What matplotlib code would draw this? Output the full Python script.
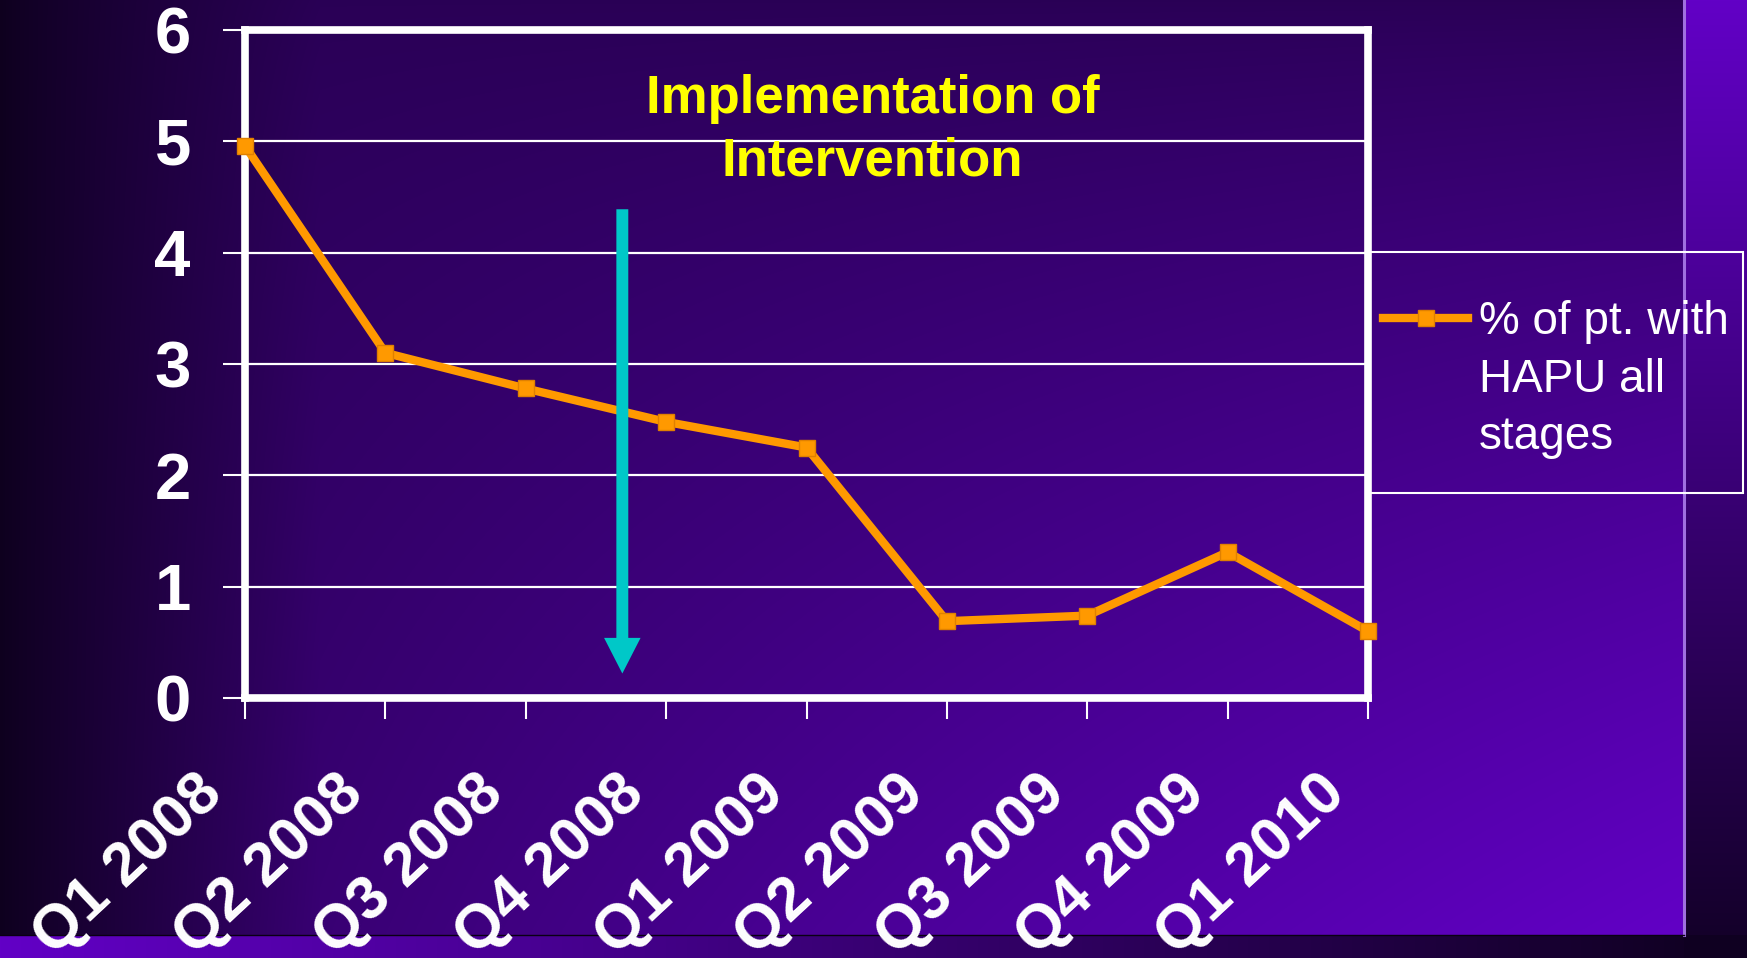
import numpy as np
import matplotlib.pyplot as plt
from matplotlib.lines import Line2D
from matplotlib.patches import Rectangle, FancyArrow
from matplotlib.transforms import ScaledTranslation

# data
quarters = ["Q1 2008", "Q2 2008", "Q3 2008", "Q4 2008", "Q1 2009",
            "Q2 2009", "Q3 2009", "Q4 2009", "Q1 2010"]
hapu_pct = [4.96, 3.10, 2.78, 2.48, 2.25, 0.69, 0.74, 1.31, 0.60]
y_ticks = [0, 1, 2, 3, 4, 5, 6]
series_label = "% of pt. with\nHAPU all\nstages"
note_text = "Implementation of\nIntervention"

plt.rcParams['font.family'] = ['Liberation Sans', 'DejaVu Sans']

W, H = 1747, 958
fig = plt.figure(figsize=(W / 100, H / 100), dpi=100)

# slide background gradient
yy, xx = np.mgrid[0:H, 0:W].astype(float)
edge_x, edge_y = 1684, 935
t = np.clip(xx / 320, 0, 1) ** 0.8 * (0.33 + 0.67 * ((xx / edge_x) * (yy / edge_y)) ** 0.8)
t = np.where(xx >= edge_x, 1 - 0.95 * yy / H, t)
t = np.where((yy >= edge_y) & (xx < edge_x), 1 - xx / W, t)
t = np.where((yy >= edge_y) & (xx >= edge_x), 0.02, t)
t = np.clip(t, 0, 1)
dark = np.array([14, 0, 30]) / 255
bright = np.array([98, 0, 198]) / 255
rgb = dark + t[..., None] * (bright - dark)

bg = fig.add_axes([0, 0, 1, 1], zorder=-10)
bg.imshow(rgb, aspect='auto', extent=(0, W, H, 0), interpolation='bilinear')
bg.plot([edge_x, edge_x], [0, edge_y], color='#a070e0', lw=2.2)
bg.plot([0, edge_x], [edge_y, edge_y], color='#0a0014', lw=1)
bg.set_xlim(0, W)
bg.set_ylim(H, 0)
bg.axis('off')

# chart area
ax = fig.add_axes([245 / W, 1 - 698 / H, (1368 - 245) / W, (698 - 30) / H])
ax.set_facecolor('none')
x = np.arange(len(quarters))
ax.set_xlim(0, len(quarters) - 1)
ax.set_ylim(0, 6)

ax.grid(axis='y', color='white', lw=1.6)
ax.set_axisbelow(True)
for s in ax.spines.values():
    s.set_color('white')
    s.set_linewidth(5.5)

ax.set_yticks(y_ticks)
ax.set_yticklabels([str(v) for v in y_ticks])
ax.tick_params(axis='y', colors='white', length=16, width=1.5, pad=23,
               labelsize=47)
ax.set_xticks(x)
ax.set_xticklabels(quarters, rotation=43, ha='right', va='top',
                   rotation_mode='anchor')
ax.tick_params(axis='x', colors='white', length=15, width=1.5, pad=33,
               labelsize=44)
for lab in ax.get_yticklabels() + ax.get_xticklabels():
    lab.set_fontweight('bold')
for lab in ax.get_xticklabels():
    lab.set_transform(lab.get_transform() + ScaledTranslation(-0.5, 0, fig.dpi_scale_trans))

line, = ax.plot(x, hapu_pct, color='#ff9900', lw=6, marker='s', ms=12,
                mfc='#ff9900', mec='#e08000', mew=1, clip_on=False, zorder=5)

# intervention arrow
ax.add_patch(FancyArrow(2.688, 4.39, 0, -4.17, width=0.085, head_width=0.26,
                        head_length=0.32, length_includes_head=True,
                        color='#00c8c8', lw=0, zorder=6))
ax.text(4.47, 5.1, note_text, color='#ffff00', fontsize=38, fontweight='bold',
        ha='center', va='center', linespacing=1.3)

# legend box (handle on the first text line, as on the slide)
fig.add_artist(Rectangle((1368 / W, 1 - 493 / H), (1743 - 1368) / W,
                         (493 - 252) / H, transform=fig.transFigure,
                         fill=False, ec='white', lw=1.5))
fig.add_artist(Line2D([1383 / W, 1468 / W], [1 - 318 / H, 1 - 318 / H],
                      transform=fig.transFigure, color='#ff9900', lw=6))
fig.add_artist(Line2D([1425.5 / W], [1 - 318 / H], transform=fig.transFigure,
                      marker='s', ms=12, mfc='#ff9900', mec='#e08000', mew=1,
                      ls='none'))
fig.text(1479 / W, 1 - 300 / H, series_label, color='white', fontsize=33,
         ha='left', va='top', linespacing=1.4)

fig.savefig('out.png', dpi=100)
